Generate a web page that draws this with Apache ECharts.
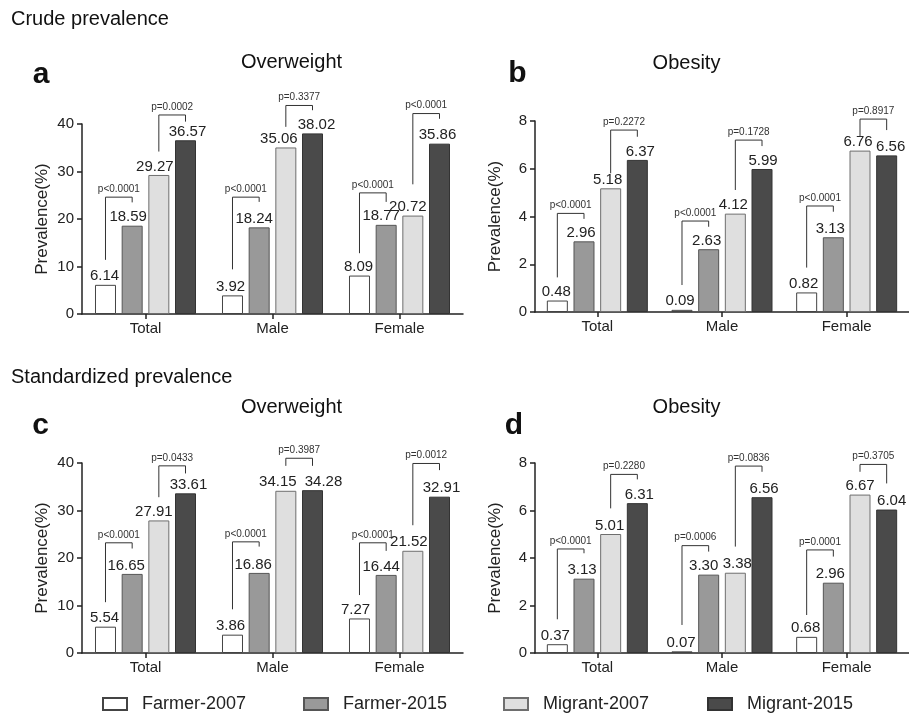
<!DOCTYPE html>
<html><head><meta charset="utf-8">
<script src="https://cdn.jsdelivr.net/npm/echarts@6/dist/echarts.min.js"></script>
<style>html,body{margin:0;padding:0;background:#fff}#c{width:909px;height:716px}</style>
</head><body><div id="c"></div>
<script>
// ---------- data ----------
const categories = ['Total', 'Male', 'Female'];
const seriesNames = ['Farmer-2007', 'Farmer-2015', 'Migrant-2007', 'Migrant-2015'];

// a: crude overweight
const crudeOwFarmer2007 = [6.14, 3.92, 8.09];
const crudeOwFarmer2015 = [18.59, 18.24, 18.77];
const crudeOwMigrant2007 = [29.27, 35.06, 20.72];
const crudeOwMigrant2015 = [36.57, 38.02, 35.86];
// b: crude obesity
const crudeObFarmer2007 = [0.48, 0.09, 0.82];
const crudeObFarmer2015 = [2.96, 2.63, 3.13];
const crudeObMigrant2007 = [5.18, 4.12, 6.76];
const crudeObMigrant2015 = [6.37, 5.99, 6.56];
// c: standardized overweight
const stdOwFarmer2007 = [5.54, 3.86, 7.27];
const stdOwFarmer2015 = [16.65, 16.86, 16.44];
const stdOwMigrant2007 = [27.91, 34.15, 21.52];
const stdOwMigrant2015 = [33.61, 34.28, 32.91];
// d: standardized obesity
const stdObFarmer2007 = [0.37, 0.07, 0.68];
const stdObFarmer2015 = [3.13, 3.30, 2.96];
const stdObMigrant2007 = [5.01, 3.38, 6.67];
const stdObMigrant2015 = [6.31, 6.56, 6.04];

// p-values (farmer 2007 vs 2015, migrant 2007 vs 2015)
const crudeOwFarmerP = ['p<0.0001', 'p<0.0001', 'p<0.0001'];
const crudeOwMigrantP = ['p=0.0002', 'p=0.3377', 'p<0.0001'];
const crudeObFarmerP = ['p<0.0001', 'p<0.0001', 'p<0.0001'];
const crudeObMigrantP = ['p=0.2272', 'p=0.1728', 'p=0.8917'];
const stdOwFarmerP = ['p<0.0001', 'p<0.0001', 'p<0.0001'];
const stdOwMigrantP = ['p=0.0433', 'p=0.3987', 'p=0.0012'];
const stdObFarmerP = ['p<0.0001', 'p=0.0006', 'p=0.0001'];
const stdObMigrantP = ['p=0.2280', 'p=0.0836', 'p=0.3705'];

// bracket levels in data units: [left leg end, top, right leg end]
const crudeOwFarmerBr = [[11.4, 24.6, 23.5], [9.4, 24.6, 23.6], [12.8, 25.5, 23.6]];
const crudeOwMigrantBr = [[34.2, 41.9, 40.5], [39.4, 43.9, 42.9], [27.3, 42.2, 41.1]];
const crudeObFarmerBr = [[1.45, 4.13, 3.90], [1.13, 3.81, 3.57], [1.86, 4.44, 4.20]];
const crudeObMigrantBr = [[5.81, 7.62, 7.34], [5.11, 7.20, 6.95], [7.34, 8.08, 7.62]];
const stdOwFarmerBr = [[10.7, 23.2, 22.0], [9.2, 23.4, 22.4], [12.2, 23.2, 21.5]];
const stdOwMigrantBr = [[32.8, 39.4, 37.8], [39.4, 41.0, 39.4], [26.9, 39.9, 38.5]];
const stdObFarmerBr = [[1.42, 4.38, 4.20], [1.18, 4.52, 4.27], [1.60, 4.34, 4.06]];
const stdObMigrantBr = [[6.09, 7.52, 7.31], [4.48, 7.87, 7.63], [7.63, 7.94, 7.14]];

// axis ranges
const overweightMax = 40, overweightStep = 10;
const obesityMax = 8, obesityStep = 2;

// ---------- styling / layout ----------
const FONT = 'Liberation Sans, Arial, sans-serif';
const INK = '#222';
const fills = ['#ffffff', '#999999', '#dfdfdf', '#4a4a4a'];
const borders = ['#444444', '#555555', '#6e6e6e', '#333333'];
const BAR_W = 21, BAR_GAP_PCT = 27;
const STEP = BAR_W * (1 + BAR_GAP_PCT / 100);

// horizontal nudges of value labels (px), per series, per category
const shiftA = [[-1, -2, -1], [-4, -5, -5], [-4, -7, -5], [2, 4, -2]];
const shiftB = [[-1, -2, -3], [-3, -2, -3], [-3, -2, -2], [3, 1, 4]];
const shiftC = [[-1, -2, -4], [-6, -6, -5], [-5, -8, -4], [3, 11, 2]];
const shiftD = [[-2, -1, -1], [-2, -5, -3], [-1, 2, 0], [2, 2, 5]];

const panels = [
  { grid: { left: 82, top: 124, width: 381, height: 190 }, max: overweightMax, step: overweightStep,
    vals: [crudeOwFarmer2007, crudeOwFarmer2015, crudeOwMigrant2007, crudeOwMigrant2015],
    br: [crudeOwFarmerBr, crudeOwMigrantBr], p: [crudeOwFarmerP, crudeOwMigrantP], shift: shiftA },
  { grid: { left: 535, top: 121, width: 381, height: 191 }, max: obesityMax, step: obesityStep,
    vals: [crudeObFarmer2007, crudeObFarmer2015, crudeObMigrant2007, crudeObMigrant2015],
    br: [crudeObFarmerBr, crudeObMigrantBr], p: [crudeObFarmerP, crudeObMigrantP], shift: shiftB },
  { grid: { left: 82, top: 463, width: 381, height: 190 }, max: overweightMax, step: overweightStep,
    vals: [stdOwFarmer2007, stdOwFarmer2015, stdOwMigrant2007, stdOwMigrant2015],
    br: [stdOwFarmerBr, stdOwMigrantBr], p: [stdOwFarmerP, stdOwMigrantP], shift: shiftC },
  { grid: { left: 535, top: 463, width: 381, height: 190 }, max: obesityMax, step: obesityStep,
    vals: [stdObFarmer2007, stdObFarmer2015, stdObMigrant2007, stdObMigrant2015],
    br: [stdObFarmerBr, stdObMigrantBr], p: [stdObFarmerP, stdObMigrantP], shift: shiftD }
];

const axisLineStyle = { color: INK, width: 1.5 };
const grid = [], xAxis = [], yAxis = [], series = [];

panels.forEach((pn, gi) => {
  grid.push(Object.assign({ containLabel: false }, pn.grid));
  xAxis.push({
    gridIndex: gi, type: 'category', data: categories,
    axisLine: { show: true, lineStyle: axisLineStyle },
    axisTick: { show: true, alignWithLabel: true, length: 5, lineStyle: axisLineStyle },
    axisLabel: { fontSize: 15, color: INK, margin: 7, fontFamily: FONT },
    splitLine: { show: false }
  });
  yAxis.push({
    gridIndex: gi, type: 'value', min: 0, max: pn.max, interval: pn.step,
    name: 'Prevalence(%)', nameLocation: 'middle', nameGap: 31, nameRotate: 90,
    nameTextStyle: { fontSize: 17, color: INK, fontFamily: FONT },
    axisLine: { show: true, lineStyle: axisLineStyle },
    axisTick: { show: true, length: 5, lineStyle: axisLineStyle },
    axisLabel: { fontSize: 15, color: INK, margin: 8, fontFamily: FONT },
    splitLine: { show: false }
  });
  pn.vals.forEach((arr, si) => {
    series.push({
      type: 'bar', name: seriesNames[si], xAxisIndex: gi, yAxisIndex: gi,
      data: arr.map((v, ci) => ({ value: v, label: { offset: [pn.shift[si][ci], 0] } })),
      barWidth: BAR_W, barGap: BAR_GAP_PCT + '%',
      itemStyle: { color: fills[si], borderColor: borders[si], borderWidth: 1 },
      label: { show: true, position: 'top', distance: 1, fontSize: 15, color: INK, fontFamily: FONT,
               formatter: (p) => p.value.toFixed(2) },
      emphasis: { disabled: true }, animation: false
    });
  });
  const items = [];
  for (let c = 0; c < categories.length; c++) { items.push([c, 0]); items.push([c, 1]); }
  series.push({
    type: 'custom', xAxisIndex: gi, yAxisIndex: gi, clip: false, silent: true, z: 5,
    data: items, encode: { x: 0 }, animation: false,
    renderItem: (params, api) => {
      const c = api.value(0), k = api.value(1);
      const b = pn.br[k][c];
      const txt = pn.p[k][c];
      const li = k === 0 ? 0 : 2, ri = li + 1;
      const lx = api.coord([c, 0])[0] + (li - 1.5) * STEP;
      const rx = api.coord([c, 0])[0] + (ri - 1.5) * STEP;
      const yL = api.coord([c, b[0]])[1];
      const yT = api.coord([c, b[1]])[1];
      const yR = api.coord([c, b[2]])[1];
      return {
        type: 'group',
        children: [
          { type: 'polyline', shape: { points: [[lx, yL], [lx, yT], [rx, yT], [rx, yR]] },
            style: { stroke: '#333', lineWidth: 1, fill: null } },
          { type: 'text', x: (lx + rx) / 2, y: yT - 3,
            style: { text: txt, align: 'center', verticalAlign: 'bottom', fill: '#333',
                     font: '10px ' + FONT } }
        ]
      };
    }
  });
});

const legends = seriesNames.map((nm, i) => ({
  data: [nm], left: [102, 303, 503, 707][i], top: 695, padding: 0,
  itemWidth: 24, itemHeight: 12, icon: 'rect', selectedMode: false,
  textStyle: { fontSize: 18, color: INK, fontFamily: FONT, padding: [0, 0, 0, 10] }
}));

function txt(text, x, y, size, bold, align) {
  return { type: 'text', x: x, y: y, silent: true,
    style: { text: text, fill: '#111', align: align || 'center', verticalAlign: 'middle',
             font: (bold ? 'bold ' : '') + size + 'px ' + FONT } };
}

const option = {
  backgroundColor: '#fff',
  animation: false,
  textStyle: { fontFamily: FONT },
  grid, xAxis, yAxis, series,
  legend: legends,
  graphic: [
    txt('Crude prevalence', 11, 19, 20, false, 'left'),
    txt('Standardized prevalence', 11, 377, 20, false, 'left'),
    txt('Overweight', 291.5, 62, 20),
    txt('Obesity', 686.5, 63.5, 20),
    txt('Overweight', 291.5, 407, 20),
    txt('Obesity', 686.5, 407.5, 20),
    txt('a', 41, 75, 30, true),
    txt('b', 517.5, 74, 30, true),
    txt('c', 40.5, 426, 30, true),
    txt('d', 514, 426, 30, true)
  ]
};
echarts.init(document.getElementById('c')).setOption(option);
</script></body></html>
